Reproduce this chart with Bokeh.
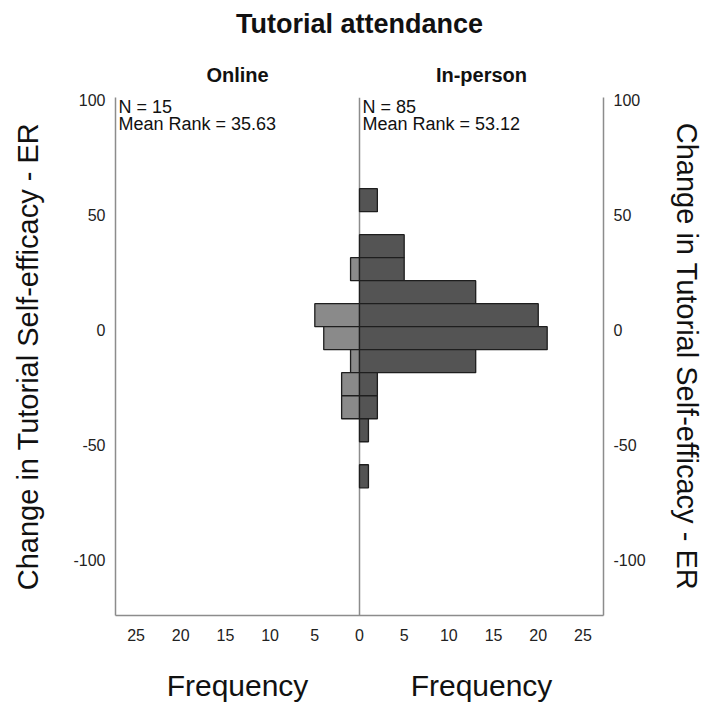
from bokeh.plotting import figure
from bokeh.models import Range1d, FixedTicker, LinearAxis, Span, Label, ColumnDataSource
from bokeh.embed import file_html
from bokeh.resources import INLINE

# ---- data ----
bin_low = [51.3, 31.3, 21.3, 11.3, 1.3, -8.7, -18.7, -28.7, -38.7, -48.7, -68.7]
bin_high = [61.3, 41.3, 31.3, 21.3, 11.3, 1.3, -8.7, -18.7, -28.7, -38.7, -58.7]
online_counts = [0, 0, 1, 0, 5, 4, 1, 2, 2, 0, 0]
inperson_counts = [2, 5, 5, 13, 20, 21, 13, 2, 2, 1, 1]
groups = ["Online", "In-person"]
n_values = [15, 85]
mean_ranks = [35.63, 53.12]
y_ticks = [-100, -50, 0, 50, 100]
freq_ticks = [0, 5, 10, 15, 20, 25]
title_text = "Tutorial attendance"
y_label = "Change in Tutorial Self-efficacy - ER"
x_label = "Frequency"
y_min, y_max = -124.2, 100.9
freq_max = 27.3

FONT = "Liberation Sans"
AXIS_GRAY = "#8c8c8c"
TXT = "#111111"


def no_ticks(ax):
    ax.major_tick_out = 0
    ax.major_tick_in = 0
    ax.minor_tick_out = 0
    ax.minor_tick_in = 0


W, H = 706, 705
p = figure(width=W, height=H, output_backend="svg", toolbar_location=None,
           x_range=Range1d(-freq_max, freq_max), y_range=Range1d(y_min, y_max),
           min_border_left=115, min_border_right=103, min_border_top=97,
           min_border_bottom=90, outline_line_color=None, background_fill_color="white",
           border_fill_color="white")
p.grid.visible = False

# bars
on_src = ColumnDataSource(dict(
    left=[-c for c in online_counts if c > 0], right=[0 for c in online_counts if c > 0],
    bottom=[b for b, c in zip(bin_low, online_counts) if c > 0],
    top=[t for t, c in zip(bin_high, online_counts) if c > 0]))
in_src = ColumnDataSource(dict(
    left=[0 for c in inperson_counts if c > 0], right=[c for c in inperson_counts if c > 0],
    bottom=[b for b, c in zip(bin_low, inperson_counts) if c > 0],
    top=[t for t, c in zip(bin_high, inperson_counts) if c > 0]))

p.add_layout(Span(location=0, dimension="height", line_color=AXIS_GRAY, line_width=1.5,
                  level="underlay"))
p.quad(left="left", right="right", bottom="bottom", top="top", source=on_src,
       fill_color="#8a8a8a", line_color="#1e1e1e", line_width=1.3)
p.quad(left="left", right="right", bottom="bottom", top="top", source=in_src,
       fill_color="#545454", line_color="#1e1e1e", line_width=1.3)

# x axis (frequency, mirrored)
xt = sorted(set([-t for t in freq_ticks] + freq_ticks))
xa = p.xaxis[0]
xa.ticker = FixedTicker(ticks=xt)
xa.major_label_overrides = {t: str(abs(t)) for t in xt}
xa.axis_line_color = AXIS_GRAY
xa.axis_line_width = 1.5
no_ticks(xa)
xa.major_label_text_font = FONT
xa.major_label_text_font_size = "16px"
xa.major_label_text_color = "#222222"
xa.major_label_standoff = 13

half = freq_max / 2
# second below axis carrying the two "Frequency" titles
fa = LinearAxis(ticker=FixedTicker(ticks=[-half, half]),
                major_label_overrides={-half: x_label, half: x_label})
fa.axis_line_color = None
no_ticks(fa)
fa.major_label_text_font = FONT
fa.major_label_text_font_size = "30px"
fa.major_label_text_color = TXT
fa.major_label_standoff = 25
p.add_layout(fa, "below")

# above axis: panel headers + overall title
ha = LinearAxis(ticker=FixedTicker(ticks=[-half, half]),
                major_label_overrides={-half: groups[0], half: groups[1]})
ha.axis_line_color = None
no_ticks(ha)
ha.major_label_text_font = FONT
ha.major_label_text_font_size = "20px"
ha.major_label_text_font_style = "bold"
ha.major_label_text_color = TXT
ha.major_label_standoff = 12
ha.axis_label = title_text
ha.axis_label_text_font = FONT
ha.axis_label_text_font_size = "27px"
ha.axis_label_text_font_style = "bold"
ha.axis_label_text_color = TXT
ha.axis_label_standoff = 22
p.add_layout(ha, "above")

# y axes
yr = LinearAxis()
p.add_layout(yr, "right")
for ax, so in ((p.yaxis[0], 26), (yr, 22)):
    ax.ticker = FixedTicker(ticks=y_ticks)
    ax.major_label_overrides = {t: str(t) for t in y_ticks}
    ax.axis_label = y_label
    ax.axis_label_text_font = FONT
    ax.axis_label_text_font_size = "29px"
    ax.axis_label_text_font_style = "normal"
    ax.axis_label_text_color = TXT
    ax.axis_label_standoff = so
    ax.axis_line_color = AXIS_GRAY
    ax.axis_line_width = 1.5
    no_ticks(ax)
    ax.major_label_text_font = FONT
    ax.major_label_text_font_size = "16px"
    ax.major_label_text_color = "#222222"
    ax.major_label_standoff = 10

# N / mean rank annotations inside the frame
for i, g in enumerate(groups):
    x0 = -freq_max if i == 0 else 0
    p.add_layout(Label(x=x0, y=509, x_units="data", y_units="screen", x_offset=3,
                       text=f"N = {n_values[i]}", text_align="left", text_baseline="middle",
                       text_font=FONT, text_font_size="18px", text_color=TXT))
    p.add_layout(Label(x=x0, y=492, x_units="data", y_units="screen", x_offset=3,
                       text=f"Mean Rank = {mean_ranks[i]:.2f}", text_align="left",
                       text_baseline="middle", text_font=FONT, text_font_size="18px",
                       text_color=TXT))

open("out.html", "w").write(file_html(p, INLINE))
